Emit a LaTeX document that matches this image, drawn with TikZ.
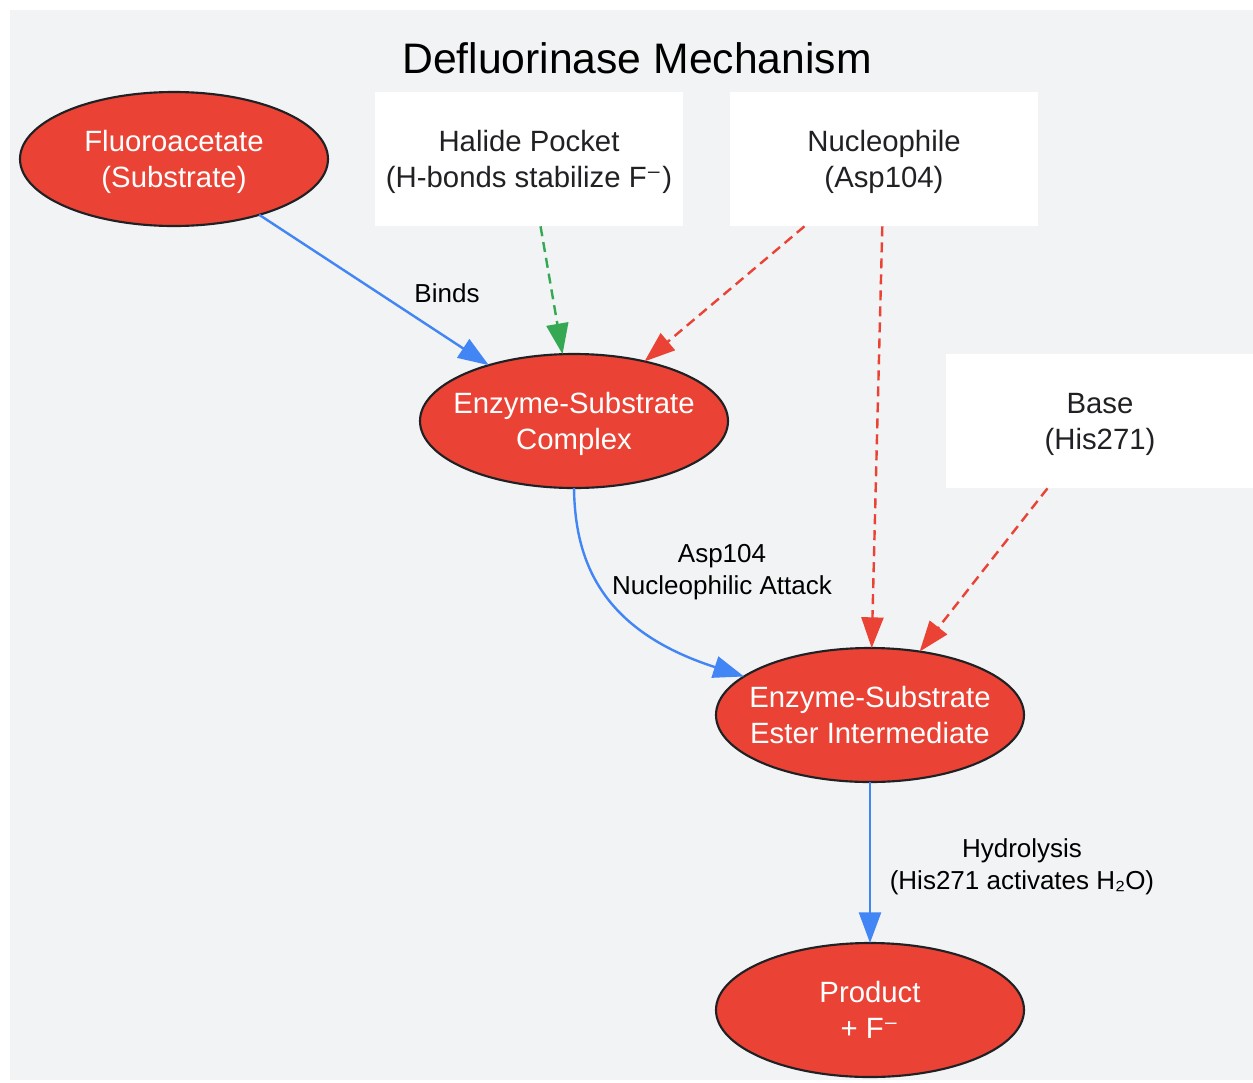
\documentclass[tikz,border=0pt]{standalone}
\usepackage{fontspec}
\setmainfont{Liberation Sans}
\newfontfamily\djfont{DejaVu Sans}
\usetikzlibrary{shapes.geometric,arrows.meta}
\definecolor{bgc}{HTML}{F1F3F4}
\definecolor{redc}{HTML}{EA4335}
\definecolor{bluec}{HTML}{4285F4}
\definecolor{greenc}{HTML}{34A853}
\definecolor{darkc}{HTML}{202124}
\newcommand{\supminus}{{\djfont ⁻}}
\newcommand{\twolines}[2]{\makebox[0pt]{\raisebox{-2.2pt}[\height][\depth]{\begin{tabular}{@{}c@{}}#1\\#2\end{tabular}}}}
\tikzset{
  stage/.style={ellipse, draw=darkc, line width=1.6pt, fill=redc, text=white,
    minimum width=231pt, minimum height=100.5pt, inner sep=0pt, outer sep=0pt,
    font=\fontsize{22}{27}\selectfont},
  infobox/.style={rectangle, fill=white, text=darkc, minimum width=231pt,
    minimum height=101pt, inner sep=0pt, outer sep=0pt,
    font=\fontsize{22}{27}\selectfont},
  elabel/.style={align=center, text=black, font=\fontsize{19.5}{24}\selectfont},
  arr/.style={line width=1.8pt, -{Triangle[length=23pt,width=16.5pt]}},
  flow/.style={arr, draw=bluec},
  helpg/.style={arr, draw=greenc, dash pattern=on 7.5pt off 4.5pt},
  helpr/.style={arr, draw=redc, dash pattern=on 7.5pt off 4.5pt},
}
\begin{document}
\begin{tikzpicture}[x=0.75pt,y=0.75pt]
\useasboundingbox (0,0) rectangle (1253,-1082);
\fill[bgc] (10,-10) rectangle (1270,-1080);
\node[font=\fontsize{32}{38}\selectfont, text=black] (title) at (637,-58) {Defluorinase Mechanism};
\node[stage] (fluoro) at (174,-159) {\twolines{Fluoroacetate}{(Substrate)}};
\node[infobox] (halide) at (529,-159) {\twolines{Halide Pocket}{(H-bonds stabilize F\supminus)}};
\node[infobox] (nuc) at (884,-159) {\twolines{Nucleophile}{(Asp104)}};
\node[stage] (es) at (574,-421) {\twolines{Enzyme-Substrate}{Complex}};
\node[infobox] (base) at (1100,-421) {\twolines{Base}{(His271)}};
\node[stage] (ester) at (870,-715) {\twolines{Enzyme-Substrate}{Ester Intermediate}};
\node[stage] (prod) at (870,-1010) {\twolines{Product}{+ F\supminus}};

\draw[flow] (fluoro) -- (es);
\node[elabel] (lbinds) at (447,-293) {Binds};
\draw[helpg] (halide) -- (es);
\draw[helpr] (nuc) -- (es);
\draw[helpr] (nuc) -- (ester);
\draw[helpr] (base) -- (ester);
\draw[flow] (es.south) .. controls (575,-560) and (600,-630) .. (ester.163);
\node[elabel] (lattack) at (722,-572) {Asp104\\Nucleophilic Attack};
\draw[flow] (ester) -- (prod);
\node[elabel] (lhyd) at (1022,-867) {Hydrolysis\\(His271 activates H₂O)};
\end{tikzpicture}
\end{document}
